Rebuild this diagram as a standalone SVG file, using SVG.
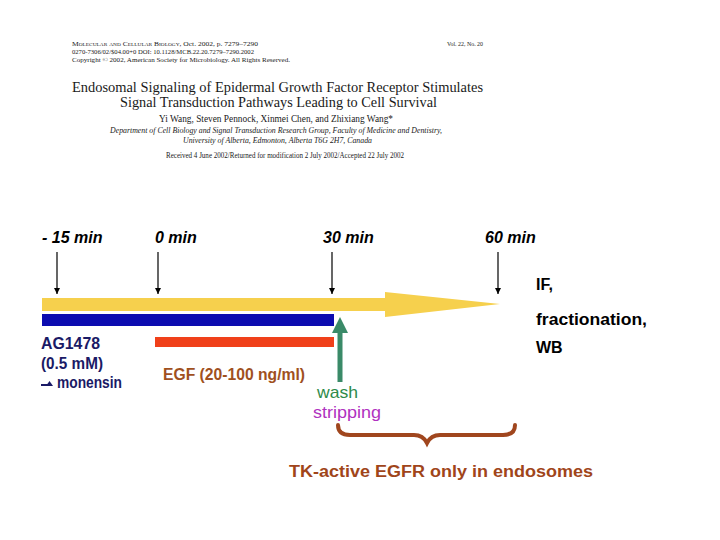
<svg xmlns="http://www.w3.org/2000/svg" width="720" height="540" viewBox="0 0 720 540">
<style>
.hd{font-family:"Liberation Serif","Times New Roman",serif;fill:#1a1a1a}
.tl{font-family:"Liberation Sans",Arial,sans-serif;font-weight:bold;font-style:italic;font-size:16px;fill:#000}
.lb{font-family:"Liberation Sans",Arial,sans-serif;font-weight:bold;font-size:16px}
.nm{font-family:"Liberation Sans",Arial,sans-serif;font-size:17px}
.vline{stroke:#000;stroke-width:1.2;fill:none}
</style>
<defs>
<marker id="ah" viewBox="0 0 10 10" refX="10" refY="5" markerWidth="6" markerHeight="6" markerUnits="userSpaceOnUse" orient="auto">
<path d="M0,0 L10,5 L0,10 z" fill="#000"/>
</marker>
</defs>
<rect width="720" height="540" fill="#fff"/>
<g id="header">
<text class="hd" x="72" y="46" font-size="7" textLength="186" lengthAdjust="spacingAndGlyphs"><tspan font-variant="small-caps">Molecular and Cellular Biology</tspan>, Oct. 2002, p. 7279–7290</text>
<text class="hd" x="447" y="46" font-size="7" textLength="36" lengthAdjust="spacingAndGlyphs">Vol. 22, No. 20</text>
<text class="hd" x="72" y="54" font-size="7" textLength="182" lengthAdjust="spacingAndGlyphs">0270-7306/02/$04.00+0   DOI: 10.1128/MCB.22.20.7279–7290.2002</text>
<text class="hd" x="72" y="62" font-size="7" textLength="218" lengthAdjust="spacingAndGlyphs">Copyright © 2002, American Society for Microbiology. All Rights Reserved.</text>
<text class="hd" x="72" y="92" font-size="14.5" textLength="411" lengthAdjust="spacingAndGlyphs">Endosomal Signaling of Epidermal Growth Factor Receptor Stimulates</text>
<text class="hd" x="120" y="107" font-size="14.5" textLength="317" lengthAdjust="spacingAndGlyphs">Signal Transduction Pathways Leading to Cell Survival</text>
<text class="hd" x="159" y="122" font-size="10" textLength="234" lengthAdjust="spacingAndGlyphs">Yi Wang, Steven Pennock, Xinmei Chen, and Zhixiang Wang*</text>
<text class="hd" x="110" y="133" font-size="8.5" font-style="italic" textLength="332" lengthAdjust="spacingAndGlyphs">Department of Cell Biology and Signal Transduction Research Group, Faculty of Medicine and Dentistry,</text>
<text class="hd" x="183" y="143" font-size="8.5" font-style="italic" textLength="189" lengthAdjust="spacingAndGlyphs">University of Alberta, Edmonton, Alberta T6G 2H7, Canada</text>
<text class="hd" x="166" y="158" font-size="7.5" textLength="238" lengthAdjust="spacingAndGlyphs">Received 4 June 2002/Returned for modification 2 July 2002/Accepted 22 July 2002</text>
</g>
<g id="time-labels">
<text class="tl" x="42" y="243">- 15 min</text>
<text class="tl" x="155" y="243">0 min</text>
<text class="tl" x="323" y="243">30 min</text>
<text class="tl" x="485" y="243">60 min</text>
</g>
<g id="timeline">
<polygon points="42,298 385,298 385,292 500,304 385,317 385,311 42,311" fill="#f6d04d"/>
</g>
<g id="ag1478-bar">
<rect x="42" y="314" width="292" height="12" fill="#0c0cb0"/>
</g>
<g id="egf-bar">
<rect x="155" y="337" width="179" height="10" fill="#f0401a"/>
</g>
<g id="wash-arrow">
<rect x="337.5" y="332" width="5" height="50" fill="#3a8a68"/>
<polygon points="332,333 340,317 348,333" fill="#3a8a68"/>
</g>
<g id="ag1478-label">
<text class="lb" x="41" y="349" fill="#1a1a66" textLength="59" lengthAdjust="spacingAndGlyphs">AG1478</text>
<text class="lb" x="41" y="369" fill="#1a1a66" textLength="62" lengthAdjust="spacingAndGlyphs">(0.5 mM)</text>
<path d="M41,385 L50,385" stroke="#1a1a66" stroke-width="2"/>
<polygon points="46,386 49.5,381 53,386" fill="#1a1a66"/>
<text class="lb" x="57" y="388" font-size="15" fill="#1a1a66" textLength="65" lengthAdjust="spacingAndGlyphs">monensin</text>
</g>
<g id="egf-label">
<text class="lb" x="163" y="380" fill="#a0501e" textLength="142" lengthAdjust="spacingAndGlyphs">EGF (20-100 ng/ml)</text>
</g>
<g id="wash-label">
<text class="nm" x="317" y="398" fill="#2e8b4a" textLength="41" lengthAdjust="spacingAndGlyphs">wash</text>
<text class="nm" x="313" y="418" fill="#b032c0" textLength="68" lengthAdjust="spacingAndGlyphs">stripping</text>
</g>
<g id="readout">
<text class="lb" x="536" y="290" font-size="17" fill="#000">IF,</text>
<text class="lb" x="536" y="325" font-size="17" fill="#000" textLength="111" lengthAdjust="spacingAndGlyphs">fractionation,</text>
<text class="lb" x="536" y="353" font-size="17" fill="#000">WB</text>
</g>
<g id="brace">
<path d="M338,425 Q338,435 350,435 L414,435 Q423,435 427,443 Q431,435 440,435 L503,435 Q515,435 515,425" fill="none" stroke="#a0461e" stroke-width="4" stroke-linecap="round"/>
</g>
<g id="conclusion">
<text class="lb" x="289" y="477" font-size="19" fill="#a0451a" textLength="304" lengthAdjust="spacingAndGlyphs">TK-active EGFR only in endosomes</text>
</g>
<g id="connectors">
<line class="vline" x1="57" y1="252" x2="57" y2="294" marker-end="url(#ah)"/>
<line class="vline" x1="158" y1="252" x2="158" y2="294" marker-end="url(#ah)"/>
<line class="vline" x1="332" y1="252" x2="332" y2="294" marker-end="url(#ah)"/>
<line class="vline" x1="498" y1="252" x2="498" y2="294" marker-end="url(#ah)"/>
</g>
</svg>
